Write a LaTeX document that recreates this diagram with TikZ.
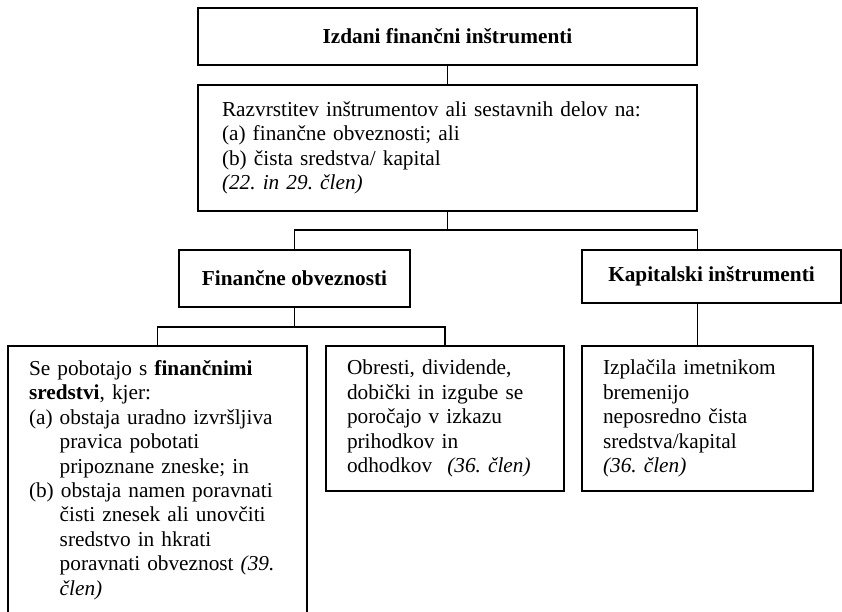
\documentclass[tikz,border=0pt]{standalone}
\usepackage{fontspec}
\setmainfont{Liberation Serif}
\newcommand{\boxfont}{\fontsize{21.3}{24.4}\selectfont\frenchspacing}
\newcommand{\subind}{\hphantom{(a) }}
\begin{document}
\begin{tikzpicture}[x=1pt,y=-1pt,inner sep=0pt,outer sep=0pt,line width=1.2pt,
headbox/.style={draw,rectangle,anchor=north west,font=\boxfont\bfseries},
textbox/.style={draw,rectangle,anchor=north west,align=left,inner xsep=21pt,font=\boxfont}]
\useasboundingbox (0,0) rectangle (842,612);
\draw (198,8) node[headbox,minimum width=499pt,minimum height=57pt] (izdani) {Izdani finančni inštrumenti};
\draw (198,85) node[textbox,inner xsep=24pt,text width=451pt,minimum height=126pt] (razvrst) {Razvrstitev inštrumentov ali sestavnih delov na:\\(a) finančne obveznosti; ali\\(b) čista sredstva/ kapital\\\textit{(22. in 29. člen)}};
\draw (179,250) node[headbox,minimum width=231pt,minimum height=57pt] (obvez) {Finančne obveznosti};
\draw (582,250) node[headbox,minimum width=259pt,minimum height=53pt] (kapital) {Kapitalski inštrumenti};
\draw (8,346) node[textbox,text width=257pt,minimum height=268pt] (pobot) {Se pobotajo s \textbf{finančnimi}\\\textbf{sredstvi}, kjer:\\(a) obstaja uradno izvršljiva\\\subind pravica pobotati\\\subind pripoznane zneske; in\\(b) obstaja namen poravnati\\\subind čisti znesek ali unovčiti\\\subind sredstvo in hkrati\\\subind poravnati obveznost \textit{(39.}\\\subind\textit{člen)}};
\draw (326,346) node[textbox,text width=196pt,minimum height=145pt] (obresti) {Obresti, dividende,\\dobički in izgube se\\poročajo v izkazu\\prihodkov in\\odhodkov\hspace{8pt} \textit{(36. člen)}};
\draw (582,346) node[textbox,text width=189pt,minimum height=145pt] (izplac) {Izplačila imetnikom\\bremenijo\\neposredno čista\\sredstva/kapital\\\textit{(36. člen)}};
\draw (izdani.south) -- (razvrst.north);
\draw (razvrst.south) -- ++(0,19) -| (obvez.north);
\draw (razvrst.south) ++(0,19) -| (izplac.north |- kapital.north);
\draw (kapital.south -| izplac.north) -- (izplac.north);
\draw (obvez.south) -- ++(0,20) -| (pobot.north);
\draw (obvez.south) ++(0,20) -| (obresti.north);
\end{tikzpicture}
\end{document}
